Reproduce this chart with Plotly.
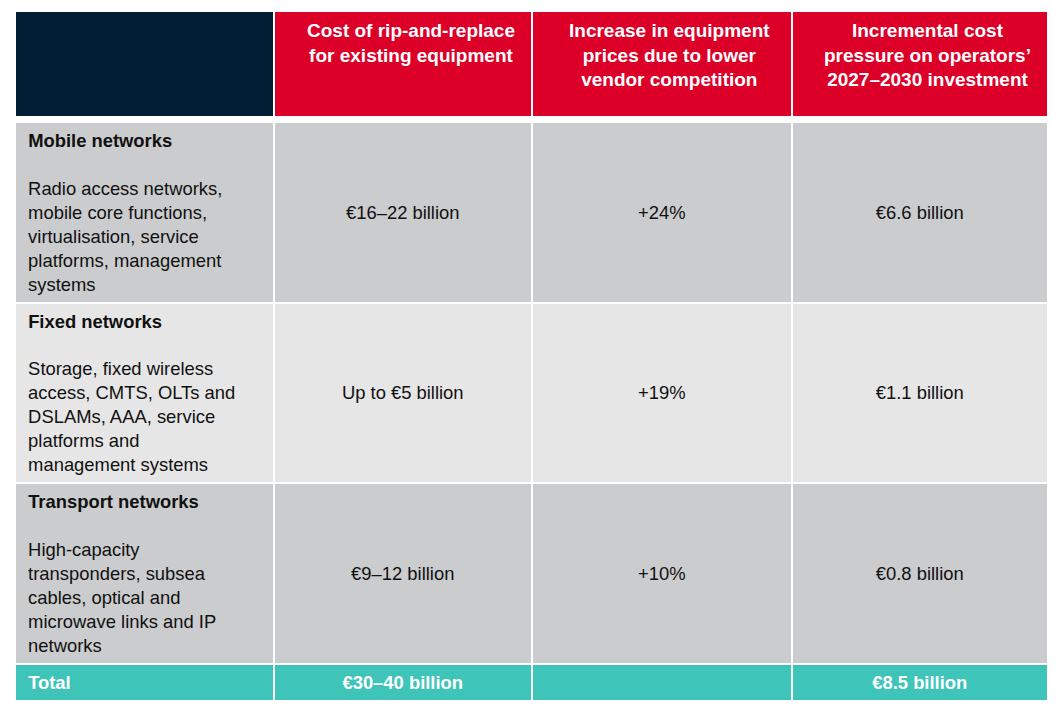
import plotly.graph_objects as go

# Header labels
headers = [
    "",
    "Cost of rip-and-replace<br>for existing equipment",
    "Increase in equipment<br>prices due to lower<br>vendor competition",
    "Incremental cost<br>pressure on operators’<br>2027–2030 investment",
]

# Row labels and descriptions
segments = ["Mobile networks", "Fixed networks", "Transport networks"]
descriptions = [
    ["Radio access networks,", "mobile core functions,", "virtualisation, service",
     "platforms, management", "systems"],
    ["Storage, fixed wireless", "access, CMTS, OLTs and", "DSLAMs, AAA, service",
     "platforms and", "management systems"],
    ["High-capacity", "transponders, subsea", "cables, optical and",
     "microwave links and IP", "networks"],
]

rip_replace = ["€16–22 billion", "Up to €5 billion", "€9–12 billion"]
price_increase = ["+24%", "+19%", "+10%"]
cost_pressure = ["€6.6 billion", "€1.1 billion", "€0.8 billion"]

total_label = "Total"
total_rip_replace = "€30–40 billion"
total_price_increase = ""
total_cost_pressure = "€8.5 billion"

NAVY = "#001e33"
RED = "#dc0028"
GREY = "#cbcccd"
LIGHT = "#e6e6e6"
TEAL = "#3ec4b9"
FONT = "Liberation Sans, Arial"
NB = "\u00a0"

W, H = 1060, 718
left, top = 16, 11
col_w = [258, 258, 259, 256]
header_h = 106
body_top = 122

# first column: bold title, blank line, description
col0 = []
for s, d in zip(segments, descriptions):
    lines = [f"<b>{s}</b>", ""] + d
    col0.append("<br>".join(NB + ln for ln in lines))
col0.append(NB + f"<b>{total_label}</b>")


def centred(values, total):
    # push the value down to the vertical middle of the tall rows
    return [(NB + "<br>") * 3 + v for v in values] + [f"<b>{total}</b>"]


cells = [
    col0,
    centred(rip_replace, total_rip_replace),
    centred(price_increase, total_price_increase),
    centred(cost_pressure, total_cost_pressure),
]

row_fill = [GREY, LIGHT, GREY, TEAL]
row_font = ["#111111", "#111111", "#111111", "#ffffff"]

x0 = (left - 9) / W
x1 = (left + sum(col_w) - 7) / W

fig = go.Figure()

# header block
fig.add_trace(go.Table(
    domain=dict(x=[x0, x1], y=[0, 1 - (top - 8) / H]),
    columnwidth=col_w,
    header=dict(
        values=[""] * 4,
        fill_color=[NAVY, RED, RED, RED],
        line=dict(color="white", width=2),
        height=header_h,
    ),
    cells=dict(values=[]),
))

# body block (no header of its own)
fig.add_trace(go.Table(
    domain=dict(x=[x0, x1], y=[0, 1 - (body_top - 8 - 16) / H]),
    columnwidth=col_w,
    header=dict(values=[], fill_color="rgba(0,0,0,0)", line=dict(width=0)),
    cells=dict(
        values=cells,
        fill_color=[row_fill] * 4,
        line=dict(color="white", width=2),
        align=["left", "center", "center", "center"],
        font=dict(family=FONT, size=18.4, color=[row_font] * 4),
        height=36,
    ),
))

# header titles, each line centred in its column
edge = left
for h, w in zip(headers, col_w):
    if h:
        fig.add_annotation(
            x=(edge + w / 2) / W, y=1 - 10 / H, xref="paper", yref="paper",
            xanchor="center", yanchor="top", align="center", showarrow=False,
            text=f"<b>{h}</b>", font=dict(family=FONT, size=19, color="white"),
        )
    edge += w

fig.update_layout(
    width=W,
    height=H,
    margin=dict(l=0, r=0, t=0, b=0),
    paper_bgcolor="white",
)

fig.write_html("out.html")
